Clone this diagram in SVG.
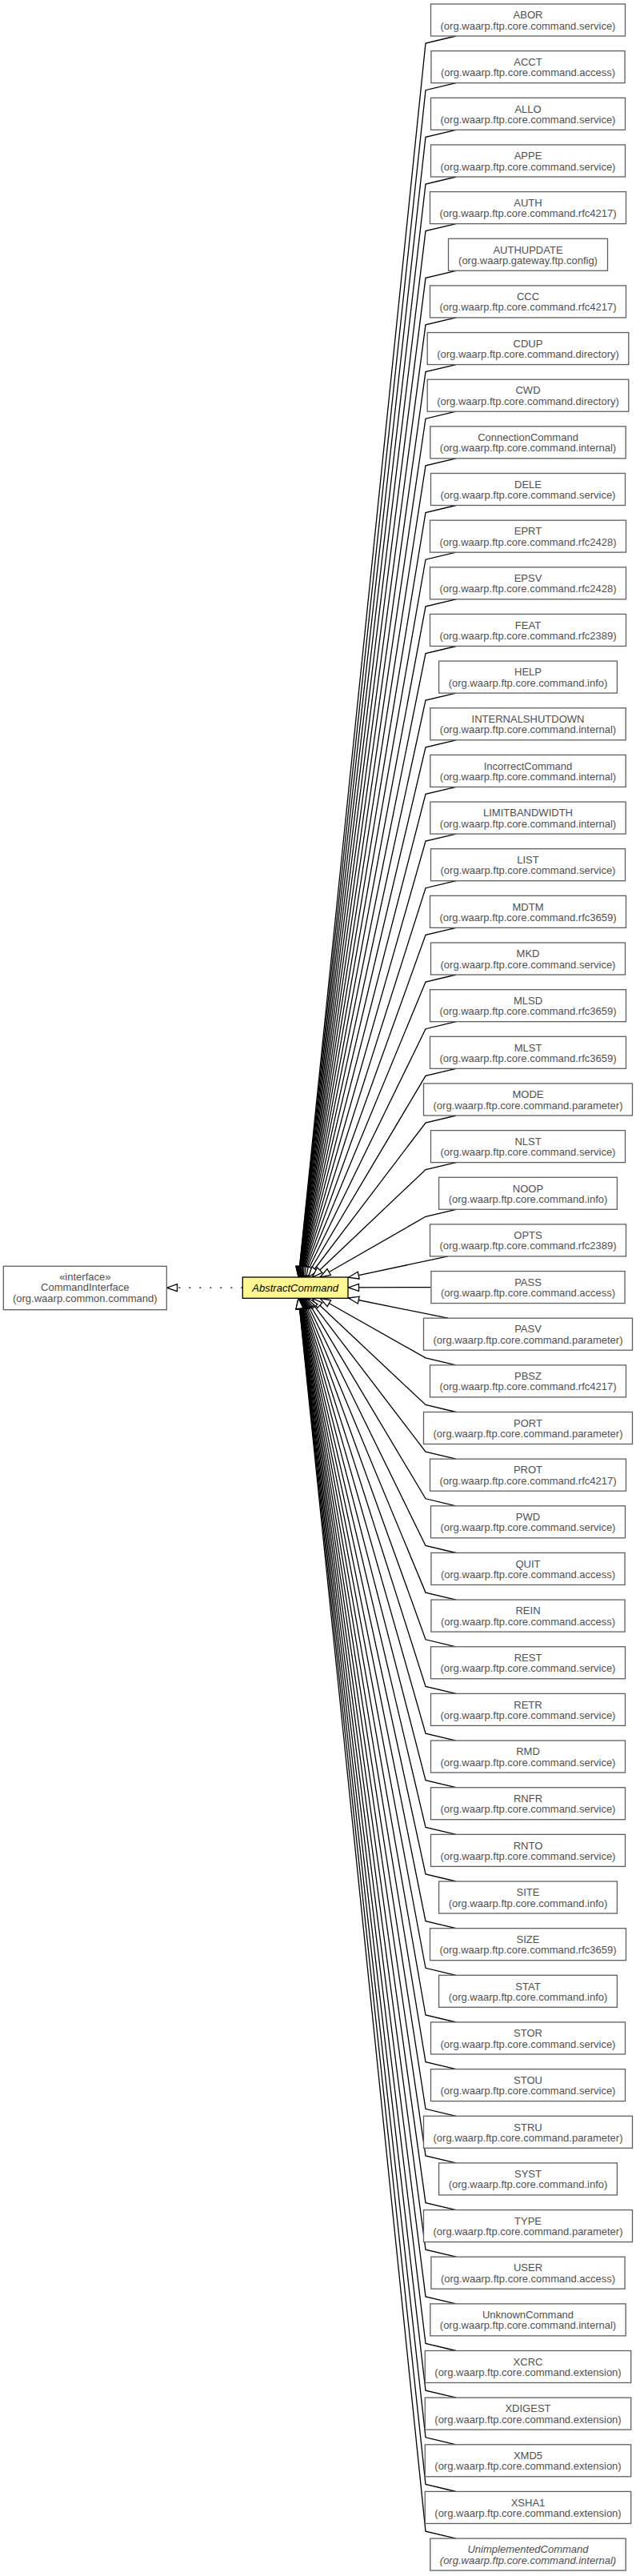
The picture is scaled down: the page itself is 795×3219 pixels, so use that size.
<svg xmlns="http://www.w3.org/2000/svg" width="795" height="3219" viewBox="0 0 795 3219">
<style>
.node rect{fill:#ffffff;stroke:#606060;stroke-width:1.3}
.node text{font-family:"Liberation Sans",Arial,sans-serif;font-size:13px;fill:#505050;text-anchor:middle}
.abs rect{fill:#fff68f;stroke:#000000;stroke-width:1.3}
.abs text{font-family:"Liberation Sans",Arial,sans-serif;font-size:13px;font-style:italic;fill:#000000;text-anchor:middle}
.it{font-style:italic}
.edges path{fill:none;stroke:#000000;stroke-width:1.3;marker-end:url(#tri)}
.edges path.real{stroke-dasharray:2,11}
</style>
<defs>
<marker id="tri" viewBox="-1 -1 15 11" refX="13" refY="4.5" markerWidth="15" markerHeight="11" markerUnits="userSpaceOnUse" orient="auto" overflow="visible">
<path d="M0,0 L13,4.5 L0,9 Z" fill="#ffffff" stroke="#000000" stroke-width="1.3" stroke-dasharray="none"/>
</marker>
</defs>
<rect width="795" height="3219" fill="#ffffff"/>
<g id="connectors" class="edges">
<path class="real" d="M303.3,1609.2 L208.5,1609.2"/>
<path d="M570,45 L532,54 L373.1,1596"/>
<path d="M570,103.7 L532,112.7 L373.2,1596"/>
<path d="M570,162.3 L532,171.3 L373.3,1596"/>
<path d="M570,221 L532,230 L373.4,1596"/>
<path d="M570,279.6 L532,288.6 L373.5,1596"/>
<path d="M570,338.3 L532,347.3 L373.6,1596"/>
<path d="M570,396.9 L532,405.9 L373.8,1596"/>
<path d="M570,455.6 L532,464.6 L373.9,1596"/>
<path d="M570,514.2 L532,523.2 L374.1,1596"/>
<path d="M570,572.9 L532,581.9 L374.2,1596"/>
<path d="M570,631.5 L532,640.5 L374.4,1596"/>
<path d="M570,690.2 L532,699.2 L374.6,1596"/>
<path d="M570,748.8 L532,757.8 L374.9,1596"/>
<path d="M570,807.5 L532,816.5 L375.1,1596"/>
<path d="M570,866.1 L532,875.1 L375.5,1596"/>
<path d="M570,924.8 L532,933.8 L375.8,1596"/>
<path d="M570,983.4 L532,992.4 L376.3,1596"/>
<path d="M570,1042.1 L532,1051.1 L376.8,1596"/>
<path d="M570,1100.7 L532,1109.7 L377.4,1596"/>
<path d="M570,1159.4 L532,1168.4 L378.3,1596"/>
<path d="M570,1218 L532,1227 L379.3,1596"/>
<path d="M570,1276.7 L532,1285.7 L380.7,1596"/>
<path d="M570,1335.3 L532,1344.3 L382.6,1596"/>
<path d="M570,1394 L532,1403 L385.5,1596"/>
<path d="M570,1452.6 L532,1461.6 L390.3,1596"/>
<path d="M570,1511.3 L532,1520.3 L400,1596"/>
<path d="M560,1569.9 L435.5,1596.3"/>
<path d="M538.5,1608.6 L435.5,1608.9"/>
<path d="M560,1647.2 L435.5,1622"/>
<path d="M570,1705.9 L532,1696.9 L400,1622.3"/>
<path d="M570,1764.5 L532,1755.5 L390.3,1622.3"/>
<path d="M570,1823.2 L532,1814.2 L385.5,1622.3"/>
<path d="M570,1881.8 L532,1872.8 L382.6,1622.3"/>
<path d="M570,1940.5 L532,1931.5 L380.7,1622.3"/>
<path d="M570,1999.1 L532,1990.1 L379.3,1622.3"/>
<path d="M570,2057.8 L532,2048.8 L378.3,1622.3"/>
<path d="M570,2116.4 L532,2107.4 L377.4,1622.3"/>
<path d="M570,2175.1 L532,2166.1 L376.8,1622.3"/>
<path d="M570,2233.7 L532,2224.7 L376.3,1622.3"/>
<path d="M570,2292.4 L532,2283.4 L375.8,1622.3"/>
<path d="M570,2351 L532,2342 L375.5,1622.3"/>
<path d="M570,2409.7 L532,2400.7 L375.1,1622.3"/>
<path d="M570,2468.3 L532,2459.3 L374.9,1622.3"/>
<path d="M570,2527 L532,2518 L374.6,1622.3"/>
<path d="M570,2585.6 L532,2576.6 L374.4,1622.3"/>
<path d="M570,2644.3 L532,2635.3 L374.2,1622.3"/>
<path d="M570,2702.9 L532,2693.9 L374.1,1622.3"/>
<path d="M570,2761.6 L532,2752.6 L373.9,1622.3"/>
<path d="M570,2820.2 L532,2811.2 L373.8,1622.3"/>
<path d="M570,2878.9 L532,2869.9 L373.6,1622.3"/>
<path d="M570,2937.5 L532,2928.5 L373.5,1622.3"/>
<path d="M570,2996.2 L532,2987.2 L373.4,1622.3"/>
<path d="M570,3054.8 L532,3045.8 L373.3,1622.3"/>
<path d="M570,3113.5 L532,3104.5 L373.2,1622.3"/>
<path d="M570,3172.1 L532,3163.1 L373.1,1622.3"/>
</g>
<g id="node-CommandInterface" class="node"><rect x="4.3" y="1582.3" width="204" height="54.4"/><text x="106.3" y="1599.5">«interface»</text><text x="106.3" y="1613">CommandInterface</text><text x="106.3" y="1626.5">(org.waarp.common.command)</text></g>
<g id="node-AbstractCommand" class="abs"><rect x="303.3" y="1596" width="131.7" height="26.3"/><text x="369.2" y="1613.6">AbstractCommand</text></g>
<g id="node-ABOR" class="node" transform="translate(0,5)"><rect x="538.5" y="0" width="243" height="40"/><text x="660" y="18.3">ABOR</text><text x="660" y="31.6">(org.waarp.ftp.core.command.service)</text></g>
<g id="node-ACCT" class="node" transform="translate(0,63.65)"><rect x="538.9" y="0" width="242.2" height="40"/><text x="660" y="18.3">ACCT</text><text x="660" y="31.6">(org.waarp.ftp.core.command.access)</text></g>
<g id="node-ALLO" class="node" transform="translate(0,122.3)"><rect x="538.5" y="0" width="243" height="40"/><text x="660" y="18.3">ALLO</text><text x="660" y="31.6">(org.waarp.ftp.core.command.service)</text></g>
<g id="node-APPE" class="node" transform="translate(0,180.95)"><rect x="538.5" y="0" width="243" height="40"/><text x="660" y="18.3">APPE</text><text x="660" y="31.6">(org.waarp.ftp.core.command.service)</text></g>
<g id="node-AUTH" class="node" transform="translate(0,239.6)"><rect x="537.5" y="0" width="245" height="40"/><text x="660" y="18.3">AUTH</text><text x="660" y="31.6">(org.waarp.ftp.core.command.rfc4217)</text></g>
<g id="node-AUTHUPDATE" class="node" transform="translate(0,298.25)"><rect x="560.5" y="0" width="199" height="40"/><text x="660" y="18.3">AUTHUPDATE</text><text x="660" y="31.6">(org.waarp.gateway.ftp.config)</text></g>
<g id="node-CCC" class="node" transform="translate(0,356.9)"><rect x="537.5" y="0" width="245" height="40"/><text x="660" y="18.3">CCC</text><text x="660" y="31.6">(org.waarp.ftp.core.command.rfc4217)</text></g>
<g id="node-CDUP" class="node" transform="translate(0,415.55)"><rect x="534.2" y="0" width="251.6" height="40"/><text x="660" y="18.3">CDUP</text><text x="660" y="31.6">(org.waarp.ftp.core.command.directory)</text></g>
<g id="node-CWD" class="node" transform="translate(0,474.2)"><rect x="534.2" y="0" width="251.6" height="40"/><text x="660" y="18.3">CWD</text><text x="660" y="31.6">(org.waarp.ftp.core.command.directory)</text></g>
<g id="node-ConnectionCommand" class="node" transform="translate(0,532.85)"><rect x="537.8" y="0" width="244.4" height="40"/><text x="660" y="18.3">ConnectionCommand</text><text x="660" y="31.6">(org.waarp.ftp.core.command.internal)</text></g>
<g id="node-DELE" class="node" transform="translate(0,591.5)"><rect x="538.5" y="0" width="243" height="40"/><text x="660" y="18.3">DELE</text><text x="660" y="31.6">(org.waarp.ftp.core.command.service)</text></g>
<g id="node-EPRT" class="node" transform="translate(0,650.15)"><rect x="537.5" y="0" width="245" height="40"/><text x="660" y="18.3">EPRT</text><text x="660" y="31.6">(org.waarp.ftp.core.command.rfc2428)</text></g>
<g id="node-EPSV" class="node" transform="translate(0,708.8)"><rect x="537.5" y="0" width="245" height="40"/><text x="660" y="18.3">EPSV</text><text x="660" y="31.6">(org.waarp.ftp.core.command.rfc2428)</text></g>
<g id="node-FEAT" class="node" transform="translate(0,767.45)"><rect x="537.5" y="0" width="245" height="40"/><text x="660" y="18.3">FEAT</text><text x="660" y="31.6">(org.waarp.ftp.core.command.rfc2389)</text></g>
<g id="node-HELP" class="node" transform="translate(0,826.1)"><rect x="548.6" y="0" width="222.8" height="40"/><text x="660" y="18.3">HELP</text><text x="660" y="31.6">(org.waarp.ftp.core.command.info)</text></g>
<g id="node-INTERNALSHUTDOWN" class="node" transform="translate(0,884.75)"><rect x="537.8" y="0" width="244.4" height="40"/><text x="660" y="18.3">INTERNALSHUTDOWN</text><text x="660" y="31.6">(org.waarp.ftp.core.command.internal)</text></g>
<g id="node-IncorrectCommand" class="node" transform="translate(0,943.4)"><rect x="537.8" y="0" width="244.4" height="40"/><text x="660" y="18.3">IncorrectCommand</text><text x="660" y="31.6">(org.waarp.ftp.core.command.internal)</text></g>
<g id="node-LIMITBANDWIDTH" class="node" transform="translate(0,1002.05)"><rect x="537.8" y="0" width="244.4" height="40"/><text x="660" y="18.3">LIMITBANDWIDTH</text><text x="660" y="31.6">(org.waarp.ftp.core.command.internal)</text></g>
<g id="node-LIST" class="node" transform="translate(0,1060.7)"><rect x="538.5" y="0" width="243" height="40"/><text x="660" y="18.3">LIST</text><text x="660" y="31.6">(org.waarp.ftp.core.command.service)</text></g>
<g id="node-MDTM" class="node" transform="translate(0,1119.35)"><rect x="537.5" y="0" width="245" height="40"/><text x="660" y="18.3">MDTM</text><text x="660" y="31.6">(org.waarp.ftp.core.command.rfc3659)</text></g>
<g id="node-MKD" class="node" transform="translate(0,1178)"><rect x="538.5" y="0" width="243" height="40"/><text x="660" y="18.3">MKD</text><text x="660" y="31.6">(org.waarp.ftp.core.command.service)</text></g>
<g id="node-MLSD" class="node" transform="translate(0,1236.65)"><rect x="537.5" y="0" width="245" height="40"/><text x="660" y="18.3">MLSD</text><text x="660" y="31.6">(org.waarp.ftp.core.command.rfc3659)</text></g>
<g id="node-MLST" class="node" transform="translate(0,1295.3)"><rect x="537.5" y="0" width="245" height="40"/><text x="660" y="18.3">MLST</text><text x="660" y="31.6">(org.waarp.ftp.core.command.rfc3659)</text></g>
<g id="node-MODE" class="node" transform="translate(0,1353.95)"><rect x="529.5" y="0" width="261" height="40"/><text x="660" y="18.3">MODE</text><text x="660" y="31.6">(org.waarp.ftp.core.command.parameter)</text></g>
<g id="node-NLST" class="node" transform="translate(0,1412.6)"><rect x="538.5" y="0" width="243" height="40"/><text x="660" y="18.3">NLST</text><text x="660" y="31.6">(org.waarp.ftp.core.command.service)</text></g>
<g id="node-NOOP" class="node" transform="translate(0,1471.25)"><rect x="548.6" y="0" width="222.8" height="40"/><text x="660" y="18.3">NOOP</text><text x="660" y="31.6">(org.waarp.ftp.core.command.info)</text></g>
<g id="node-OPTS" class="node" transform="translate(0,1529.9)"><rect x="537.5" y="0" width="245" height="40"/><text x="660" y="18.3">OPTS</text><text x="660" y="31.6">(org.waarp.ftp.core.command.rfc2389)</text></g>
<g id="node-PASS" class="node" transform="translate(0,1588.55)"><rect x="538.9" y="0" width="242.2" height="40"/><text x="660" y="18.3">PASS</text><text x="660" y="31.6">(org.waarp.ftp.core.command.access)</text></g>
<g id="node-PASV" class="node" transform="translate(0,1647.2)"><rect x="529.5" y="0" width="261" height="40"/><text x="660" y="18.3">PASV</text><text x="660" y="31.6">(org.waarp.ftp.core.command.parameter)</text></g>
<g id="node-PBSZ" class="node" transform="translate(0,1705.85)"><rect x="537.5" y="0" width="245" height="40"/><text x="660" y="18.3">PBSZ</text><text x="660" y="31.6">(org.waarp.ftp.core.command.rfc4217)</text></g>
<g id="node-PORT" class="node" transform="translate(0,1764.5)"><rect x="529.5" y="0" width="261" height="40"/><text x="660" y="18.3">PORT</text><text x="660" y="31.6">(org.waarp.ftp.core.command.parameter)</text></g>
<g id="node-PROT" class="node" transform="translate(0,1823.15)"><rect x="537.5" y="0" width="245" height="40"/><text x="660" y="18.3">PROT</text><text x="660" y="31.6">(org.waarp.ftp.core.command.rfc4217)</text></g>
<g id="node-PWD" class="node" transform="translate(0,1881.8)"><rect x="538.5" y="0" width="243" height="40"/><text x="660" y="18.3">PWD</text><text x="660" y="31.6">(org.waarp.ftp.core.command.service)</text></g>
<g id="node-QUIT" class="node" transform="translate(0,1940.45)"><rect x="538.9" y="0" width="242.2" height="40"/><text x="660" y="18.3">QUIT</text><text x="660" y="31.6">(org.waarp.ftp.core.command.access)</text></g>
<g id="node-REIN" class="node" transform="translate(0,1999.1)"><rect x="538.9" y="0" width="242.2" height="40"/><text x="660" y="18.3">REIN</text><text x="660" y="31.6">(org.waarp.ftp.core.command.access)</text></g>
<g id="node-REST" class="node" transform="translate(0,2057.75)"><rect x="538.5" y="0" width="243" height="40"/><text x="660" y="18.3">REST</text><text x="660" y="31.6">(org.waarp.ftp.core.command.service)</text></g>
<g id="node-RETR" class="node" transform="translate(0,2116.4)"><rect x="538.5" y="0" width="243" height="40"/><text x="660" y="18.3">RETR</text><text x="660" y="31.6">(org.waarp.ftp.core.command.service)</text></g>
<g id="node-RMD" class="node" transform="translate(0,2175.05)"><rect x="538.5" y="0" width="243" height="40"/><text x="660" y="18.3">RMD</text><text x="660" y="31.6">(org.waarp.ftp.core.command.service)</text></g>
<g id="node-RNFR" class="node" transform="translate(0,2233.7)"><rect x="538.5" y="0" width="243" height="40"/><text x="660" y="18.3">RNFR</text><text x="660" y="31.6">(org.waarp.ftp.core.command.service)</text></g>
<g id="node-RNTO" class="node" transform="translate(0,2292.35)"><rect x="538.5" y="0" width="243" height="40"/><text x="660" y="18.3">RNTO</text><text x="660" y="31.6">(org.waarp.ftp.core.command.service)</text></g>
<g id="node-SITE" class="node" transform="translate(0,2351)"><rect x="548.6" y="0" width="222.8" height="40"/><text x="660" y="18.3">SITE</text><text x="660" y="31.6">(org.waarp.ftp.core.command.info)</text></g>
<g id="node-SIZE" class="node" transform="translate(0,2409.65)"><rect x="537.5" y="0" width="245" height="40"/><text x="660" y="18.3">SIZE</text><text x="660" y="31.6">(org.waarp.ftp.core.command.rfc3659)</text></g>
<g id="node-STAT" class="node" transform="translate(0,2468.3)"><rect x="548.6" y="0" width="222.8" height="40"/><text x="660" y="18.3">STAT</text><text x="660" y="31.6">(org.waarp.ftp.core.command.info)</text></g>
<g id="node-STOR" class="node" transform="translate(0,2526.95)"><rect x="538.5" y="0" width="243" height="40"/><text x="660" y="18.3">STOR</text><text x="660" y="31.6">(org.waarp.ftp.core.command.service)</text></g>
<g id="node-STOU" class="node" transform="translate(0,2585.6)"><rect x="538.5" y="0" width="243" height="40"/><text x="660" y="18.3">STOU</text><text x="660" y="31.6">(org.waarp.ftp.core.command.service)</text></g>
<g id="node-STRU" class="node" transform="translate(0,2644.25)"><rect x="529.5" y="0" width="261" height="40"/><text x="660" y="18.3">STRU</text><text x="660" y="31.6">(org.waarp.ftp.core.command.parameter)</text></g>
<g id="node-SYST" class="node" transform="translate(0,2702.9)"><rect x="548.6" y="0" width="222.8" height="40"/><text x="660" y="18.3">SYST</text><text x="660" y="31.6">(org.waarp.ftp.core.command.info)</text></g>
<g id="node-TYPE" class="node" transform="translate(0,2761.55)"><rect x="529.5" y="0" width="261" height="40"/><text x="660" y="18.3">TYPE</text><text x="660" y="31.6">(org.waarp.ftp.core.command.parameter)</text></g>
<g id="node-USER" class="node" transform="translate(0,2820.2)"><rect x="538.9" y="0" width="242.2" height="40"/><text x="660" y="18.3">USER</text><text x="660" y="31.6">(org.waarp.ftp.core.command.access)</text></g>
<g id="node-UnknownCommand" class="node" transform="translate(0,2878.85)"><rect x="537.8" y="0" width="244.4" height="40"/><text x="660" y="18.3">UnknownCommand</text><text x="660" y="31.6">(org.waarp.ftp.core.command.internal)</text></g>
<g id="node-XCRC" class="node" transform="translate(0,2937.5)"><rect x="531.3" y="0" width="257.4" height="40"/><text x="660" y="18.3">XCRC</text><text x="660" y="31.6">(org.waarp.ftp.core.command.extension)</text></g>
<g id="node-XDIGEST" class="node" transform="translate(0,2996.15)"><rect x="531.3" y="0" width="257.4" height="40"/><text x="660" y="18.3">XDIGEST</text><text x="660" y="31.6">(org.waarp.ftp.core.command.extension)</text></g>
<g id="node-XMD5" class="node" transform="translate(0,3054.8)"><rect x="531.3" y="0" width="257.4" height="40"/><text x="660" y="18.3">XMD5</text><text x="660" y="31.6">(org.waarp.ftp.core.command.extension)</text></g>
<g id="node-XSHA1" class="node" transform="translate(0,3113.45)"><rect x="531.3" y="0" width="257.4" height="40"/><text x="660" y="18.3">XSHA1</text><text x="660" y="31.6">(org.waarp.ftp.core.command.extension)</text></g>
<g id="node-UnimplementedCommand" class="node" transform="translate(0,3172.1)"><rect x="537.8" y="0" width="244.4" height="40"/><text class="it" x="660" y="18.3">UnimplementedCommand</text><text class="it" x="660" y="31.6">(org.waarp.ftp.core.command.internal)</text></g>
</svg>
